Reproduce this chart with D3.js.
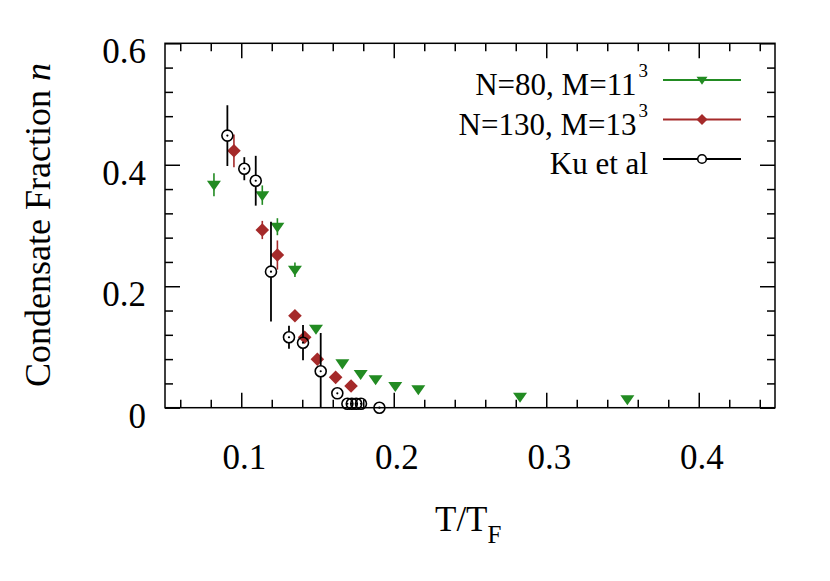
<!DOCTYPE html>
<html>
<head>
<meta charset="utf-8">
<script src="https://cdn.jsdelivr.net/npm/d3@7"></script>
<style>
  body { margin: 0; background: #fff; }
  text { font-family: "Liberation Serif", "Times New Roman", serif; fill: #000; }
</style>
</head>
<body>
<svg></svg>
<script>
const size = {w: 830, h: 581};
const margin = {t: 43.3, r: 55, b: 173.3, l: 165};

// N=80, M=11^3 (green down triangles)
const greenT   = [0.0821, 0.1138, 0.1237, 0.1352, 0.149, 0.1663, 0.1783, 0.1881, 0.201, 0.2161, 0.2828, 0.3532];
const greenN   = [0.367, 0.350, 0.298, 0.227, 0.130, 0.073, 0.0555, 0.0467, 0.0357, 0.0303, 0.0181, 0.0138];
const greenErr = [0.019, 0.016, 0.014, 0.012, 0, 0, 0, 0, 0, 0, 0, 0];

// N=130, M=13^3 (red diamonds)
const redT   = [0.0952, 0.1138, 0.1237, 0.1352, 0.1416, 0.1499, 0.1619, 0.172];
const redN   = [0.423, 0.2926, 0.2514, 0.1515, 0.116, 0.0797, 0.050, 0.0357];
const redErr = [0.027, 0.015, 0.024, 0, 0, 0, 0, 0];

// Ku et al (open circles)
const kuT   = [0.0909, 0.102, 0.1095, 0.1195, 0.1313, 0.1405, 0.1521, 0.163, 0.1696, 0.1725, 0.1754, 0.1785, 0.1906];
const kuN   = [0.448, 0.3935, 0.3737, 0.224, 0.116, 0.107, 0.060, 0.0237, 0.0065, 0.0065, 0.0065, 0.0065, 0.0];
const kuErr = [0.05, 0.019, 0.041, 0.082, 0.019, 0.029, 0.063, 0, 0, 0, 0, 0, 0];

const xMajor = [0.1, 0.2, 0.3, 0.4];
const xMinor = [0.06, 0.08, 0.12, 0.14, 0.16, 0.18, 0.22, 0.24, 0.26, 0.28, 0.32, 0.34, 0.36, 0.38, 0.42, 0.44];
const yMajor = [0, 0.2, 0.4, 0.6];
const yMinor = [0.04, 0.08, 0.12, 0.16, 0.24, 0.28, 0.32, 0.36, 0.44, 0.48, 0.52, 0.56];

const legendNames = [['N=80, M=11', '3'], ['N=130, M=13', '3'], ['Ku et al', '']];

const green = '#228b22', red = '#a52a2a', black = '#000';

const svg = d3.select('svg').attr('width', size.w).attr('height', size.h);

const x = d3.scaleLinear().domain([0.05, 0.45]).range([margin.l, size.w - margin.r]);
const y = d3.scaleLinear().domain([0, 0.6]).range([size.h - margin.b, margin.t]);
const x0 = x.range()[0], x1 = x.range()[1], y0 = y.range()[0], y1 = y.range()[1];

// ---- axes: ticks on all four sides, pointing inward ----
function tickAxis(axisFn, scale, vals, len, pos) {
  const g = svg.append('g').attr('transform', pos)
    .call(axisFn(scale).tickValues(vals).tickSize(-len).tickFormat(''));
  g.select('.domain').remove();
  g.selectAll('line').attr('stroke', '#000').attr('stroke-width', 1.5);
  return g;
}
tickAxis(d3.axisBottom, x, xMajor, 15, `translate(0,${y0})`);
tickAxis(d3.axisBottom, x, xMinor, 8, `translate(0,${y0})`);
tickAxis(d3.axisTop, x, xMajor, 15, `translate(0,${y1})`);
tickAxis(d3.axisTop, x, xMinor, 8, `translate(0,${y1})`);
tickAxis(d3.axisLeft, y, yMajor, 15, `translate(${x0},0)`);
tickAxis(d3.axisLeft, y, yMinor, 8, `translate(${x0},0)`);
tickAxis(d3.axisRight, y, yMajor, 15, `translate(${x1},0)`);
tickAxis(d3.axisRight, y, yMinor, 8, `translate(${x1},0)`);

// tick labels
svg.append('g').selectAll('text').data(xMajor).join('text')
  .attr('x', d => x(d) + 3).attr('y', y0 + 61)
  .attr('text-anchor', 'middle').style('font-size', '35px')
  .text(d => d3.format('.1f')(d));
svg.append('g').selectAll('text').data(yMajor).join('text')
  .attr('x', x0 - 19).attr('y', d => y(d) + 20)
  .attr('text-anchor', 'end').style('font-size', '35px')
  .text(d => d === 0 ? '0' : d3.format('.1f')(d));

// frame
svg.append('rect').attr('x', x0).attr('y', y1).attr('width', x1 - x0).attr('height', y0 - y1)
  .attr('fill', 'none').attr('stroke', '#000').attr('stroke-width', 1.5);

// axis titles
const yt = svg.append('text').attr('transform', 'translate(50,225) rotate(-90)')
  .attr('text-anchor', 'middle').style('font-size', '36px');
yt.append('tspan').text('Condensate Fraction ');
yt.append('tspan').style('font-style', 'italic').text('n');

const xt = svg.append('text').attr('x', 435).attr('y', 531).style('font-size', '35px');
xt.append('tspan').text('T/T');
xt.append('tspan').attr('dy', 12).style('font-size', '25px').text('F');

// ---- markers ----
const triPath = s => `M${-s},${-s * 0.57}L${s},${-s * 0.57}L0,${s * 0.86}Z`;
const diaPath = s => `M0,${-s}L${s},0L0,${s}L${-s},0Z`;

function zipSeries(ts, ns, es) {
  return ts.map((t, i) => ({t: t, n: ns[i], e: es[i]}));
}
const greenData = zipSeries(greenT, greenN, greenErr);
const redData = zipSeries(redT, redN, redErr);
const kuData = zipSeries(kuT, kuN, kuErr);

const plotG = svg.append('g');

// green
plotG.append('g').selectAll('line').data(greenData.filter(d => d.e > 0)).join('line')
  .attr('x1', d => x(d.t)).attr('x2', d => x(d.t))
  .attr('y1', d => y(d.n + d.e)).attr('y2', d => y(Math.max(0, d.n - d.e)))
  .attr('stroke', green).attr('stroke-width', 1.6);
plotG.append('g').selectAll('path').data(greenData).join('path')
  .attr('d', triPath(7))
  .attr('transform', d => `translate(${x(d.t)},${y(d.n)})`)
  .attr('fill', green);

// red
plotG.append('g').selectAll('line').data(redData.filter(d => d.e > 0)).join('line')
  .attr('x1', d => x(d.t)).attr('x2', d => x(d.t))
  .attr('y1', d => y(d.n + d.e)).attr('y2', d => y(Math.max(0, d.n - d.e)))
  .attr('stroke', red).attr('stroke-width', 1.6);
plotG.append('g').selectAll('path').data(redData).join('path')
  .attr('d', diaPath(6.8))
  .attr('transform', d => `translate(${x(d.t)},${y(d.n)})`)
  .attr('fill', red);

// Ku et al: bars with a gap inside the circle
const r = 5.5;
const kuBars = plotG.append('g').selectAll('g').data(kuData.filter(d => d.e > 0)).join('g');
kuBars.append('line')
  .attr('x1', d => x(d.t)).attr('x2', d => x(d.t))
  .attr('y1', d => y(d.n + d.e)).attr('y2', d => y(d.n) - r)
  .attr('stroke', black).attr('stroke-width', 1.8);
kuBars.append('line')
  .attr('x1', d => x(d.t)).attr('x2', d => x(d.t))
  .attr('y1', d => y(d.n) + r).attr('y2', d => Math.min(y0, y(d.n - d.e)))
  .attr('stroke', black).attr('stroke-width', 1.8);
plotG.append('g').selectAll('circle').data(kuData).join('circle')
  .attr('cx', d => x(d.t)).attr('cy', d => y(d.n)).attr('r', r)
  .attr('fill', 'none').attr('stroke', black).attr('stroke-width', 1.6);
plotG.append('g').selectAll('circle').data(kuData).join('circle')
  .attr('cx', d => x(d.t)).attr('cy', d => y(d.n)).attr('r', 1.1)
  .attr('fill', black);

// ---- legend ----
const legendColors = [green, red, black];
const legendY = [80, 119.5, 159];
const leg = svg.append('g').selectAll('g').data(legendNames).join('g')
  .attr('transform', (d, i) => `translate(0,${legendY[i]})`);
leg.append('line').attr('x1', 663).attr('x2', 741).attr('y1', 0).attr('y2', 0)
  .attr('stroke', (d, i) => legendColors[i]).attr('stroke-width', 1.8);
const lt = leg.append('text').attr('x', 648).attr('y', 15)
  .attr('text-anchor', 'end').style('font-size', '31px');
lt.append('tspan').text(d => d[0]);
lt.filter(d => d[1] !== '').append('tspan').attr('dy', -18).attr('dx', 2)
  .style('font-size', '19px').text(d => d[1]);
leg.filter((d, i) => i === 0).append('path').attr('d', triPath(5.5))
  .attr('transform', 'translate(702,0)').attr('fill', green);
leg.filter((d, i) => i === 1).append('path').attr('d', diaPath(5.5))
  .attr('transform', 'translate(702,0)').attr('fill', red);
leg.filter((d, i) => i === 2).append('circle').attr('cx', 702).attr('cy', 0).attr('r', 4.3)
  .attr('fill', '#fff').attr('stroke', black).attr('stroke-width', 1.6);
</script>
</body>
</html>
